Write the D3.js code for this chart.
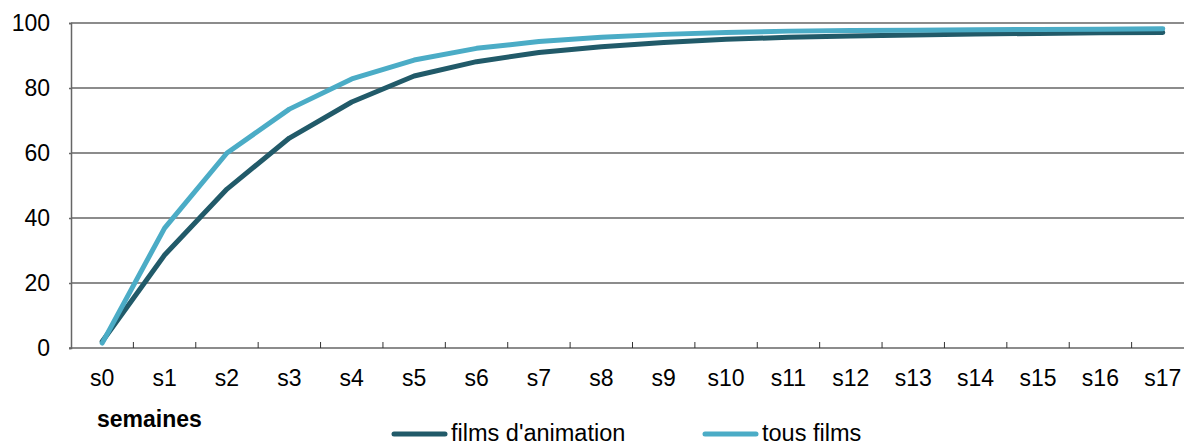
<!DOCTYPE html>
<html>
  <head>
    <script src="https://d3js.org/d3.v7.min.js"></script>
    <style>
      body { margin: 0; background: #fff; }
      text { font-family: "Liberation Sans", Arial, sans-serif; fill: #000; }
    </style>
  </head>
  <body>
    <svg width="1184" height="446"></svg>
    <script>
      // Data
      const weeks = ["s0","s1","s2","s3","s4","s5","s6","s7","s8","s9","s10","s11","s12","s13","s14","s15","s16","s17"];
      const animation = [2, 28.6, 48.9, 64.6, 75.7, 83.7, 88.1, 90.9, 92.7, 94.0, 95.0, 95.6, 96.0, 96.3, 96.6, 96.8, 97.0, 97.1];
      const tousFilms = [1.5, 36.9, 60.0, 73.5, 82.8, 88.6, 92.2, 94.3, 95.6, 96.5, 97.1, 97.5, 97.7, 97.8, 97.9, 98.0, 98.1, 98.2];
      const yTicks = [0, 20, 40, 60, 80, 100];
      const seriesNames = ["films d'animation", "tous films"];
      const colors = ["#215a69", "#4bacc6"];

      const svg = d3.select("svg");
      const margin = { left: 71, right: 1194, top: 23, bottom: 348 };

      const x = d3.scaleBand().domain(weeks).range([margin.left, margin.right]);
      const y = d3.scaleLinear().domain([0, 100]).range([margin.bottom, margin.top]);

      // Gridlines
      svg.append("g")
        .selectAll("line")
        .data(yTicks.filter(d => d > 0))
        .join("line")
        .attr("x1", margin.left).attr("x2", 1184)
        .attr("y1", d => y(d)).attr("y2", d => y(d))
        .attr("stroke", "#666").attr("stroke-width", 1.5);

      // Y axis
      const yAxis = svg.append("g")
        .attr("transform", `translate(${margin.left},0)`)
        .call(d3.axisLeft(y).tickValues(yTicks).tickSize(2).tickPadding(19));
      yAxis.select(".domain").attr("stroke", "#666").attr("stroke-width", 1.5);
      yAxis.selectAll(".tick line").attr("stroke", "#666").attr("stroke-width", 1.5);
      yAxis.selectAll("text").style("font-size", "23px");

      // X axis line + ticks between categories
      svg.append("line")
        .attr("x1", margin.left - 2).attr("x2", 1184)
        .attr("y1", y(0)).attr("y2", y(0))
        .attr("stroke", "#666").attr("stroke-width", 1.5);
      svg.append("g")
        .selectAll("line")
        .data(weeks.slice(1))
        .join("line")
        .attr("x1", d => x(d)).attr("x2", d => x(d))
        .attr("y1", y(0)).attr("y2", y(0) - 6)
        .attr("stroke", "#333").attr("stroke-width", 1);
      svg.append("g")
        .selectAll("text")
        .data(weeks)
        .join("text")
        .attr("x", d => x(d) + x.bandwidth() / 2)
        .attr("y", 386)
        .attr("text-anchor", "middle")
        .style("font-size", "23px")
        .text(d => d);

      svg.append("text")
        .attr("x", 97).attr("y", 427)
        .style("font-size", "23px").style("font-weight", "bold")
        .text("semaines");

      // Lines
      const line = d3.line()
        .x((d, i) => x(weeks[i]) + x.bandwidth() / 2)
        .y(d => y(d));
      [animation, tousFilms].forEach((s, i) => {
        svg.append("path")
          .datum(s)
          .attr("fill", "none")
          .attr("stroke", colors[i])
          .attr("stroke-width", 5)
          .attr("stroke-linejoin", "round")
          .attr("stroke-linecap", "round")
          .attr("d", line);
      });

      // Legend
      const legendX = [394, 705];
      seriesNames.forEach((n, i) => {
        svg.append("line")
          .attr("x1", legendX[i]).attr("x2", legendX[i] + 51)
          .attr("y1", 434).attr("y2", 434)
          .attr("stroke", colors[i]).attr("stroke-width", 5)
          .attr("stroke-linecap", "round");
        svg.append("text")
          .attr("x", legendX[i] + 57).attr("y", 441)
          .style("font-size", "23.5px")
          .text(n);
      });
    </script>
  </body>
</html>
